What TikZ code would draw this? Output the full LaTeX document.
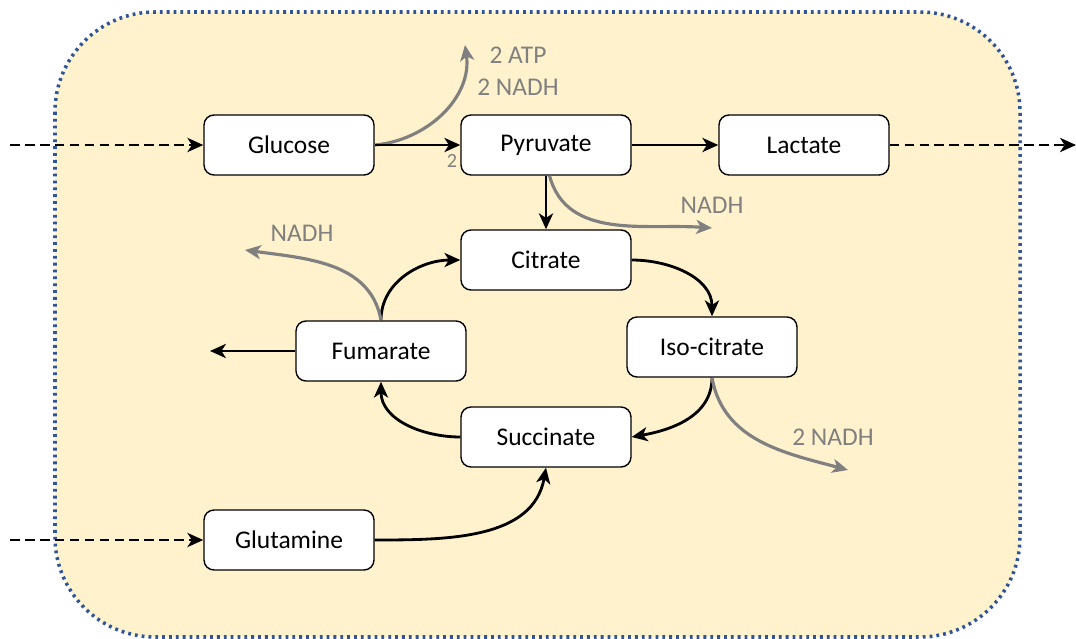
\documentclass[tikz,border=0pt]{standalone}
\usepackage{fontspec}
\setmainfont{Carlito}
\usepackage{xcolor}
\usepackage{tikz}
\usetikzlibrary{arrows.meta}

\definecolor{cellfill}{HTML}{FFF2CC}
\definecolor{cellline}{HTML}{2F5597}
\definecolor{sidegray}{HTML}{808080}

\begin{document}
\begin{tikzpicture}[x=0.02cm, y=-0.02cm,
    met/.style={draw, fill=white, rounded corners=0.2cm, line width=0.8pt,
      minimum width=3.4cm, minimum height=1.2cm, font=\fontsize{14.5}{17}\selectfont},
    flux/.style={line width=1.6pt, -{Stealth[length=9pt,width=8pt,inset=2.5pt]}},
    side/.style={flux, sidegray, line width=1.8pt},
    inflow/.style={flux, line width=1.6pt, dash pattern=on 5.5pt off 3pt},
    sidelab/.style={text=sidegray, font=\fontsize{14.5}{17}\selectfont}]
  \useasboundingbox (0,0) rectangle (1076,639);
  % cell
  \draw[fill=cellfill, draw=cellline, line width=2pt, dash pattern=on 1.6pt off 2.3pt,
    rounded corners=2cm] (55,12) rectangle (1020,637);

  \node[met] (glc) at (289,145) {Glucose} ; %
  \node[met] (pyr) at (546,145) {Pyruvate} ; %
  \node[met] (lac) at (804,145) {Lactate} ; %
  \node[met] (cit) at (546,260) {Citrate} ; %
  \node[met] (icit) at (712,347) {Iso-citrate} ; %
  \node[met] (suc) at (546,437) {Succinate} ; %
  \node[met] (fum) at (381,351) {Fumarate} ; %
  \node[met] (gln) at (289,540) {Glutamine} ; %

  \coordinate (glcin) at (10,145) ; %
  \coordinate (glnin) at (10,540) ; %
  \coordinate (lacout) at (1076,145) ; %
  \coordinate (atp) at (465,45) ; %
  \coordinate (pyrnadh) at (712,228) ; %
  \coordinate (icitnadh) at (848,470) ; %
  \coordinate (fumnadh) at (245,250) ; %
  \coordinate (fumout) at (210,351) ; %

  % exchange with outside
  \draw[inflow] (glcin) -- (glc.west) ;
  \draw[inflow] (glnin) -- (gln.west) ;
  \draw[inflow] (lac.east) -- (lacout) ;

  % glycolysis
  \draw[side] (glc.east) to[out=5,in=-82] (atp) ;
  \node[sidelab] (atplab) at (518,55) {2 ATP} ;
  \node[sidelab] (nadhlab1) at (518,87) {2 NADH} ;
  \draw[flux] (glc.east) -- (pyr.west) ;
  \node[text=sidegray, font=\fontsize{11.5}{13}\selectfont] (two) at (452,161) {2} ;
  \draw[flux] (pyr.east) -- (lac.west) ;

  % into the cycle
  \draw[flux] (pyr.south) -- (cit.north) ;
  \draw[side] ([xshift=2]pyr.south) to[out=-75,in=176] (pyrnadh) ;
  \node[sidelab] (nadhlab2) at (712,205) {NADH} ;

  % cycle
  \draw[flux] (cit.east) to[out=0,in=90] (icit.north) ;
  \draw[flux] (icit.south) to[out=-90,in=10] (suc.east) ;
  \draw[side] (icit.south) to[out=-80,in=165] (icitnadh) ;
  \node[sidelab] (nadhlab3) at (833,437) {2 NADH} ;
  \draw[flux] (suc.west) to[out=180,in=-90] (fum.south) ;
  \draw[flux] (fum.north) to[out=90,in=180] (cit.west) ;
  \draw[side] (fum.north) to[out=100,in=-8] (fumnadh) ;
  \node[sidelab] (nadhlab4) at (302,233) {NADH} ;
  \draw[flux] (fum.west) -- (fumout) ;

  % glutamine feeds succinate
  \draw[flux] (gln.east) to[out=0,in=-100] (suc.south) ;
\end{tikzpicture}
\end{document}
